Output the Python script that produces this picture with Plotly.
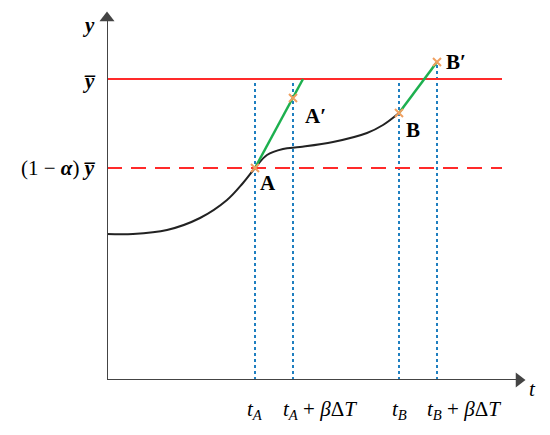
import plotly.graph_objects as go

# time positions on the t axis
t_A = 148
t_A_dT = 186
t_B = 292
t_B_dT = 330

# threshold levels
y_bar = 301
y_alpha = 212
line_end = 395

# response curve
curve_t = [0, 26, 60, 93, 120, 136, 148, 160, 176, 193, 226, 260, 276, 292]
curve_y = [146, 146, 150, 162, 180, 197, 212, 225, 231, 233, 238, 247, 255, 267]

# tangent (prediction) lines
tanA_t = [148, 196]
tanA_y = [212, 301]
tanB_t = [292, 330]
tanB_y = [267, 318]

# marked points
pts_t = [148, 186, 292, 330]
pts_y = [212, 282, 267, 318]
pts_lbl = ["A", "A′", "B", "B′"]
lbl_dx = [13, 22, 14, 19]
lbl_dy = [-15, -18, -17, 0]

x_ticks = [t_A, t_A_dT, t_B, t_B_dT]
x_tick_text = ["<i>t</i><sub><i>A</i></sub>",
               "<i>t</i><sub><i>A</i></sub> + <i>β</i>Δ<i>T</i>",
               "<i>t</i><sub><i>B</i></sub>",
               "<i>t</i><sub><i>B</i></sub> + <i>β</i>Δ<i>T</i>"]
v_top = [y_bar, y_bar, y_bar, 318]

# axis extents
x_max = 418
y_max = 368

serif = "Liberation Serif, Times New Roman, serif"
blue = "#1f7fc0"
red = "#ff2a2a"
txt = dict(family=serif, size=21, color="black")

fig = go.Figure()

# dotted verticals
for xt, top in zip(x_ticks, v_top):
    fig.add_trace(go.Scatter(x=[xt, xt], y=[0, top], mode="lines",
                             line=dict(color=blue, width=2, dash="dot"),
                             showlegend=False, hoverinfo="skip"))

fig.add_trace(go.Scatter(x=[0, line_end], y=[y_bar, y_bar], mode="lines",
                         line=dict(color=red, width=2), showlegend=False))
fig.add_trace(go.Scatter(x=[0, line_end], y=[y_alpha, y_alpha], mode="lines",
                         line=dict(color=red, width=2, dash="15px,9px"), showlegend=False))

fig.add_trace(go.Scatter(x=curve_t, y=curve_y, mode="lines", line_shape="spline",
                         line=dict(color="#222222", width=2), showlegend=False))

fig.add_trace(go.Scatter(x=tanA_t, y=tanA_y, mode="lines",
                         line=dict(color="#1db04f", width=2.5), showlegend=False))
fig.add_trace(go.Scatter(x=tanB_t, y=tanB_y, mode="lines",
                         line=dict(color="#1db04f", width=2.5), showlegend=False))

fig.add_trace(go.Scatter(x=pts_t, y=pts_y, mode="markers",
                         marker=dict(symbol="x-thin", size=8, line=dict(color="#f0a060", width=2)),
                         showlegend=False))

for xt, yt, lb, dx, dy in zip(pts_t, pts_y, pts_lbl, lbl_dx, lbl_dy):
    fig.add_annotation(x=xt + dx, y=yt + dy, text="<b>" + lb + "</b>", showarrow=False,
                       xanchor="center", yanchor="middle", font=txt)

# axes with arrow heads
fig.add_trace(go.Scatter(x=[0, x_max - 6], y=[0, 0], mode="lines", cliponaxis=False,
                         line=dict(color="#444444", width=2), showlegend=False))
fig.add_trace(go.Scatter(x=[0, 0], y=[0, y_max - 6], mode="lines", cliponaxis=False,
                         line=dict(color="#444444", width=2), showlegend=False))
fig.add_trace(go.Scatter(x=[x_max - 6, 0], y=[0, y_max - 6], mode="markers", cliponaxis=False,
                         marker=dict(symbol=["triangle-right", "triangle-up"], size=13,
                                     color="#444444"),
                         showlegend=False))

# text labels (anchored inside the range, shifted out in pixels)
fig.add_annotation(x=x_max, y=0, xshift=7, yshift=-9, text="<i>t</i>", showarrow=False, font=txt)
fig.add_annotation(x=0, y=355, xshift=-19, text="<b><i>y</i></b>", showarrow=False, font=txt)
fig.add_annotation(x=0, y=y_bar, xshift=-10, yshift=-2, text="<b><i>y̅</i></b>", showarrow=False,
                   xanchor="right", font=txt)
fig.add_annotation(x=0, y=y_alpha, xshift=-10, text="(1 − <b><i>α</i></b>) <b><i>y̅</i></b>",
                   showarrow=False, xanchor="right", font=txt)

for xt, tx in zip(x_ticks, x_tick_text):
    wide = "β" in tx
    fig.add_annotation(x=xt, y=0, yshift=-30, text=tx, showarrow=False,
                       xanchor="left" if wide else "center", xshift=-12 if wide else 0,
                       font=dict(family=serif, size=21, color="black"))

fig.update_xaxes(range=[0, x_max], visible=False)
fig.update_yaxes(range=[0, y_max], visible=False)
# page body adds 8px, so margins are pulled in by that much
fig.update_layout(width=550, height=435, margin=dict(l=99, r=33, t=4, b=63),
                  plot_bgcolor="white", paper_bgcolor="white")

fig.write_html("out.html")
